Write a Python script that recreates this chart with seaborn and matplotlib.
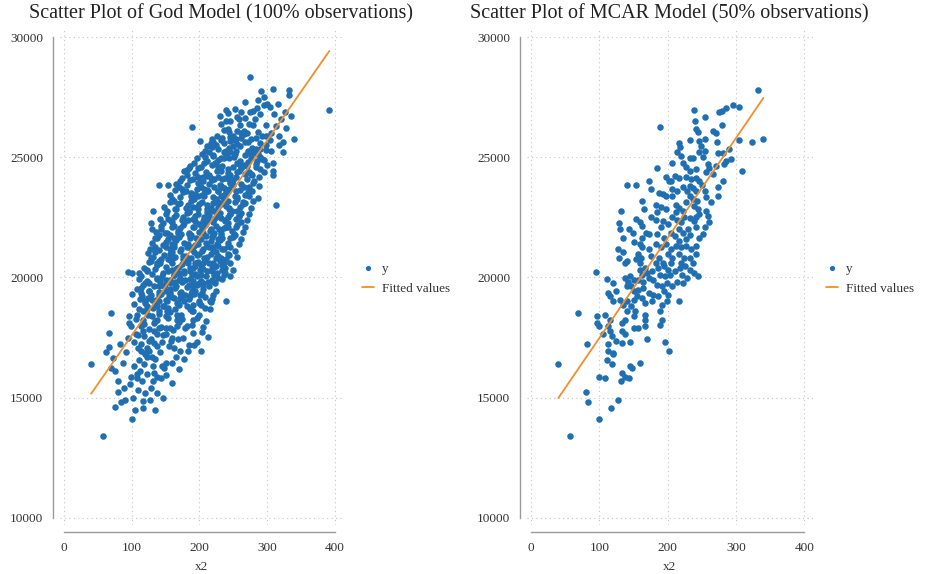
import matplotlib
matplotlib.use("Agg")
import matplotlib.pyplot as plt
import pandas as pd
import seaborn as sns

# points kept in the MCAR sample (x2, y); they are also part of the full sample
obs_pts = [
    (332, 27780), (295, 27180), (304, 27110), (285, 27040), (280, 26920), (275, 26880), (239, 26970),
    (255, 26670), (240, 26500), (189, 26250), (280, 26350), (266, 26110), (271, 26010), (242, 26180),
    (244, 26040), (217, 25580), (218, 25420), (232, 25720), (246, 25670), (254, 25760), (249, 25490),
    (272, 25630), (304, 25720), (324, 25650), (340, 25760), (214, 25210), (220, 25070), (246, 25210),
    (254, 25250), (251, 25000), (232, 24970), (237, 24970), (273, 25170), (281, 25170), (289, 25350),
    (293, 24930), (285, 24860), (283, 24720), (207, 24750), (223, 24750), (227, 24610), (232, 24440),
    (242, 24510), (185, 24540), (259, 24720), (261, 24560), (256, 24370), (271, 24650), (267, 24300),
    (309, 24440), (211, 24240), (217, 24140), (198, 24170), (202, 24030), (227, 24170), (234, 24100),
    (241, 24140), (281, 24000), (246, 24030), (250, 23860), (232, 23820), (237, 23720), (242, 23610),
    (228, 23610), (222, 23750), (205, 24030), (207, 23680), (141, 23860), (154, 23860), (172, 24000),
    (175, 23680), (188, 23500), (273, 23750), (273, 23400), (254, 23610), (256, 23330), (264, 23120),
    (193, 23470), (198, 23400), (207, 23400), (213, 23610), (232, 23400), (237, 23260), (243, 23170),
    (227, 23120), (239, 22980), (244, 22850), (163, 23190), (165, 22850), (183, 23030), (190, 22940),
    (198, 22850), (185, 22710), (212, 23030), (217, 22890), (222, 22780), (212, 22710), (132, 22780),
    (256, 22780), (259, 22570), (154, 22430), (159, 22290), (163, 22150), (176, 22500), (183, 22390),
    (193, 22360), (200, 22220), (190, 22080), (207, 22500), (213, 22390), (220, 22290), (224, 22500),
    (232, 22470), (238, 22360), (242, 22500), (246, 22640), (242, 22080), (254, 22080), (261, 22290),
    (129, 22250), (130, 22010), (144, 22010), (149, 21870), (134, 21660), (168, 21870), (173, 21800),
    (163, 21660), (185, 21800), (195, 21660), (205, 21870), (210, 21730), (217, 22010), (222, 21870),
    (229, 22010), (232, 21780), (227, 21590), (217, 21520), (246, 21660), (251, 21800), (151, 21460),
    (159, 21390), (163, 21250), (173, 21180), (183, 21390), (190, 21250), (198, 21390), (205, 21180),
    (212, 21320), (220, 21250), (227, 21320), (234, 21180), (242, 21320), (242, 20970), (127, 21180),
    (134, 21040), (129, 20830), (156, 20970), (161, 20830), (154, 20760), (159, 20620), (176, 20900),
    (188, 20830), (183, 20620), (193, 20620), (200, 20970), (207, 20830), (205, 20620), (217, 20970),
    (224, 20830), (220, 20620), (232, 20830), (237, 20620), (137, 20620), (141, 20690),
    (95, 20220), (111, 19950), (120, 19770), (138, 19970), (145, 20040), (142, 19830), (150, 19900),
    (140, 19630), (147, 19630), (160, 20320), (167, 20390), (162, 20110), (170, 20180), (177, 20250),
    (157, 19900), (164, 19830), (172, 19970), (179, 19900), (186, 20390), (194, 20460), (201, 20320),
    (189, 20110), (196, 20040), (203, 20110), (211, 20250), (218, 20390), (225, 20460), (233, 20320),
    (221, 20110), (228, 19970), (238, 20180), (245, 20040), (223, 19770), (184, 19700), (191, 19630),
    (199, 19770), (206, 19630), (213, 19830), (194, 19420), (201, 19280), (186, 19210), (113, 19350),
    (115, 19210), (120, 19010), (130, 19080), (125, 19420), (150, 19420), (157, 19490), (164, 19560),
    (155, 19210), (162, 19140), (172, 19350), (179, 19280), (167, 18940), (177, 19010), (135, 18870),
    (140, 19010), (146, 18800), (150, 19080), (216, 19030), (199, 19010), (191, 18870), (69, 18520),
    (96, 18410), (108, 18450), (96, 18110), (99, 17970), (116, 18250), (113, 17970), (140, 18590),
    (152, 18590), (151, 18390), (167, 18450), (167, 18250), (138, 18250), (133, 18110), (133, 17760),
    (138, 17630), (150, 17900), (157, 17900), (167, 17970), (189, 18590), (191, 18250), (189, 18040),
    (106, 17630), (116, 17760), (118, 17560), (82, 17240), (113, 17240), (125, 17350), (133, 17280),
    (145, 17320), (169, 17460), (196, 17320), (202, 16960), (113, 16940), (120, 16870), (120, 16800),
    (111, 16550), (118, 16410), (40, 16380), (145, 16320), (148, 16220), (160, 16450), (99, 15860),
    (108, 15830), (133, 16040), (131, 15690), (137, 15860), (143, 15800), (80, 15240), (84, 14800),
    (127, 14920), (117, 14560), (100, 14130), (57, 13420),
]

# points dropped in the MCAR sample (only in the full sample)
miss_pts = [
    (275, 28340), (291, 27770), (309, 27840), (332, 27580), (392, 26980), (242, 26850), (232, 26400),
    (298, 26330), (313, 26290), (201, 25670), (323, 25210), (299, 25530), (309, 24760), (309, 24250),
    (314, 23000), (181, 24470), (67, 17670), (67, 17110), (72, 16640), (69, 16250), (79, 15690),
    (98, 15560), (102, 15000), (116, 14850), (146, 15000), (122, 15970), (151, 15940), (123, 16670),
    (130, 16670), (87, 16460), (106, 18260), (111, 18680), (101, 20170), (111, 20170), (123, 20310),
    (114, 19580), (123, 17080), (151, 17640), (158, 17360), (183, 16940), (192, 17200), (213, 17530),
    (205, 17940), (210, 18190), (181, 17980), (215, 18680), (217, 18960), (240, 19030), (175, 18260),
    (104, 17300), (110, 17050), (126, 16950), (135, 16600), (142, 16900), (150, 16450), (155, 17150),
    (165, 16700), (172, 16950), (178, 16600), (108, 16000), (115, 15700), (128, 15400), (138, 15200),
    (160, 15600), (170, 16200), (140, 17900), (130, 18400), (122, 18800), (104, 18900), (100, 19300),
    (110, 17600), (185, 17200), (160, 17500),
    (62, 16900), (75, 16100), (88, 15400), (92, 16900), (95, 17500), (103, 16300), (110, 15300),
    (120, 15200), (132, 16300), (112, 16100), (90, 14900), (76, 14600), (105, 14500), (135, 14500),
    (262, 26900), (290, 26800), (300, 27200), (268, 27300), (252, 27000), (320, 26600), (318, 25900),
    (306, 25250), (296, 24400), (300, 24700), (288, 24200), (292, 25900), (284, 25800), (274, 26400),
    (262, 26000), (258, 26600), (230, 26700), (286, 27400), (310, 26800),
    (316, 27200), (326, 26900), (296, 27500), (306, 26000), (328, 26200), (336, 26700), (318, 25500),
    (128, 17450), (137, 17150), (146, 17600), (162, 17050), (176, 17500), (190, 17700),
    (118, 18050), (126, 17850), (135, 18200), (144, 17950), (153, 18300), (161, 17800), (170, 18150),
    (179, 17900), (196, 18300), (204, 17750),
    (116, 18600), (124, 18450), (131, 18750), (140, 18500), (148, 18800), (156, 18550), (164, 18700),
    (173, 18450), (181, 18800), (190, 18600), (199, 18450), (208, 18750),
    (122, 18700), (138, 18800), (154, 18750), (170, 18850), (186, 18700), (202, 18850),
    (112, 19100), (120, 18950), (128, 19250), (136, 19050), (144, 19300), (152, 19000), (160, 19200),
    (168, 18950), (176, 19250), (184, 19100), (192, 19300), (200, 18950), (209, 19200), (218, 19100),
    (124, 19150), (140, 19250), (156, 19350), (172, 19150), (188, 19300), (204, 19350), (220, 19250),
    (108, 19500), (117, 19700), (125, 19450), (133, 19650), (141, 19400), (149, 19700), (157, 19500),
    (165, 19650), (173, 19400), (181, 19600), (189, 19450), (197, 19700), (205, 19500), (214, 19650),
    (224, 19450),
    (126, 19750), (142, 19950), (158, 19750), (174, 19800), (190, 19850), (206, 19750), (222, 19800),
    (236, 20100),
    (114, 20050), (122, 19850), (130, 20150), (138, 19950), (146, 20200), (154, 19850), (162, 20100),
    (170, 19900), (178, 20200), (186, 19950), (194, 20150), (202, 19850), (210, 20050), (218, 19900),
    (226, 20200), (234, 19950),
    (122, 20250), (138, 20500), (154, 20250), (170, 20450), (186, 20250), (202, 20500), (218, 20250),
    (234, 20500), (250, 20300),
    (118, 20400), (126, 20650), (134, 20350), (142, 20600), (150, 20450), (158, 20700), (166, 20350),
    (174, 20550), (182, 20700), (190, 20400), (198, 20650), (206, 20350), (214, 20600), (222, 20450),
    (230, 20700), (238, 20400), (246, 20600),
    (128, 20700), (144, 20750), (160, 21050), (176, 20750), (192, 21050), (208, 20700), (224, 21050),
    (240, 20750), (256, 20850),
    (124, 21000), (132, 20850), (140, 21150), (148, 20950), (156, 21200), (164, 20850), (172, 21100),
    (180, 20900), (188, 21200), (196, 20950), (204, 21100), (212, 20850), (220, 21150), (228, 20900),
    (236, 21200), (244, 20950), (252, 21100),
    (134, 21250), (150, 21250), (166, 21550), (182, 21250), (198, 21550), (214, 21250), (230, 21550),
    (246, 21250), (262, 21600),
    (130, 21450), (138, 21650), (146, 21350), (154, 21600), (162, 21400), (170, 21700), (178, 21450),
    (186, 21650), (194, 21350), (202, 21600), (210, 21450), (218, 21700), (226, 21400), (234, 21650),
    (242, 21450), (250, 21700), (258, 21400),
    (140, 21750), (156, 21750), (172, 22050), (188, 21750), (204, 22050), (220, 21750), (236, 22050),
    (252, 21750), (268, 22100),
    (136, 21900), (144, 22150), (152, 21850), (160, 22100), (168, 21950), (176, 22200), (184, 21850),
    (192, 22100), (200, 21900), (208, 22200), (216, 21950), (224, 22150), (232, 21850), (240, 22100),
    (248, 21950), (256, 22200), (264, 21900),
    (146, 22250), (162, 22500), (178, 22250), (194, 22550), (210, 22250), (226, 22550), (242, 22250),
    (258, 22550), (274, 22650),
    (142, 22450), (150, 22650), (158, 22350), (166, 22600), (174, 22400), (182, 22700), (190, 22450),
    (198, 22650), (206, 22350), (214, 22600), (222, 22450), (230, 22700), (238, 22400), (246, 22650),
    (254, 22450), (262, 22700), (270, 22400),
    (152, 22750), (168, 23050), (184, 22750), (200, 23050), (216, 22750), (232, 23050), (248, 22750),
    (264, 23050), (280, 23200),
    (148, 22950), (156, 23150), (164, 22850), (172, 23100), (180, 22900), (188, 23200), (196, 22950),
    (204, 23150), (212, 22850), (220, 23100), (228, 22950), (236, 23200), (244, 22900), (252, 23150),
    (260, 22950), (268, 23100), (276, 22900),
    (160, 23250), (176, 23550), (192, 23250), (208, 23550), (224, 23250), (240, 23550), (256, 23250),
    (272, 23550), (286, 23300),
    (156, 23450), (164, 23650), (172, 23350), (180, 23600), (188, 23400), (196, 23700), (204, 23450),
    (212, 23650), (220, 23350), (228, 23600), (236, 23450), (244, 23700), (252, 23400), (260, 23650),
    (268, 23450), (278, 23600),
    (170, 23750), (186, 24050), (202, 23750), (218, 24050), (234, 23750), (250, 24050), (266, 23750),
    (276, 24300), (288, 23800),
    (166, 23900), (174, 24150), (182, 23850), (190, 24100), (198, 23950), (206, 24200), (214, 23900),
    (222, 24100), (230, 23850), (238, 24150), (246, 23950), (254, 24200), (262, 23900), (270, 24100),
    (280, 23950),
    (182, 24250), (198, 24550), (214, 24250), (230, 24550), (246, 24250), (262, 24550), (278, 24250),
    (290, 24500),
    (178, 24450), (186, 24650), (194, 24350), (202, 24600), (210, 24400), (218, 24700), (226, 24450),
    (234, 24650), (242, 24350), (250, 24600), (258, 24450), (266, 24700), (274, 24400), (284, 24600),
    (192, 24750), (208, 25000), (224, 24750), (240, 25050), (256, 24750), (272, 24800), (290, 25000),
    (196, 24950), (204, 25150), (212, 24850), (220, 25100), (228, 24900), (236, 25200), (244, 24950),
    (252, 25150), (260, 24850), (268, 25100), (276, 24950), (286, 25150), (296, 24900),
    (208, 25250), (224, 25500), (240, 25250), (256, 25550), (272, 25250), (284, 25350), (298, 25300),
    (212, 25450), (220, 25650), (228, 25350), (236, 25600), (244, 25400), (252, 25700), (260, 25450),
    (268, 25650), (278, 25400), (290, 25600),
    (218, 25750), (234, 25800), (250, 25900), (262, 25800), (276, 25750), (298, 25900),
    (226, 25900), (236, 26150), (246, 25850), (256, 26100), (266, 25950), (286, 26050),
    (246, 26500), (260, 26350), (268, 26650), (282, 26600),
]

titles = ["Scatter Plot of God Model (100% observations)",
          "Scatter Plot of MCAR Model (50% observations)"]
x_ticks = [0, 100, 200, 300, 400]
y_ticks = [10000, 15000, 20000, 25000, 30000]

obs = pd.DataFrame(obs_pts, columns=["x2", "y"])
full = pd.concat([obs, pd.DataFrame(miss_pts, columns=["x2", "y"])], ignore_index=True)

sns.set_theme(style="white")
plt.rcParams["font.family"] = ["Liberation Serif", "DejaVu Serif"]

W, H = 928, 574
fig = plt.figure(figsize=(W / 100, H / 100), dpi=100)

dot_color = "#1f6fb2"
line_color = "#f28e2b"


def draw_panel(df, left_px, right_px, title, title_x, legend_x):
    ax = fig.add_axes([left_px / W, 1 - 525 / H, (right_px - left_px) / W, (525 - 28) / H])
    sns.scatterplot(data=df, x="x2", y="y", ax=ax, s=22, color=dot_color, linewidth=0)
    dots = ax.collections[-1]
    # linear fit of y on x2 (Stata's "Fitted values")
    sns.regplot(data=df, x="x2", y="y", ax=ax, ci=None, scatter=False,
                line_kws={"color": line_color, "lw": 1.3})
    fit = ax.lines[-1]
    ax.set_xlim(-6, 412)
    ax.set_ylim(9700, 30380)
    ax.set_xticks(x_ticks)
    ax.set_yticks(y_ticks)
    ax.grid(True, linestyle=(0, (1, 3)), color="#c4c4c4", lw=0.8)
    sns.despine(ax=ax)
    for side in ["left", "bottom"]:
        ax.spines[side].set_position(("outward", 5))
        ax.spines[side].set_color("#9a9a9a")
        ax.spines[side].set_linewidth(1.0)
    ax.spines["left"].set_bounds(10000, 30000)
    ax.spines["bottom"].set_bounds(0, 400)
    ax.tick_params(axis="both", direction="out", length=5, width=1.0, color="#9a9a9a",
                   labelsize=9.5, labelcolor="#333333", pad=2)
    ax.set_xlabel("x2", fontsize=9.5, color="#333333", labelpad=5)
    ax.set_ylabel("")
    fig.text(title_x / W, 1 - 14 / H, title, fontsize=14.5, color="#222222", ha="left", va="center")
    ax.legend([dots, fit], ["y", "Fitted values"], loc="center left",
              bbox_to_anchor=(legend_x / W, 1 - 278.5 / H),
              bbox_transform=fig.transFigure, frameon=False, fontsize=9.5,
              borderpad=0, borderaxespad=0, handlelength=0.9, handletextpad=0.6,
              labelspacing=0.6, markerscale=0.8, labelcolor="#333333")
    return ax


draw_panel(full, 60, 342.8, titles[0], 29, 362)
draw_panel(obs, 526.9, 812.6, titles[1], 470, 826)

fig.savefig("out.png", dpi=100)
